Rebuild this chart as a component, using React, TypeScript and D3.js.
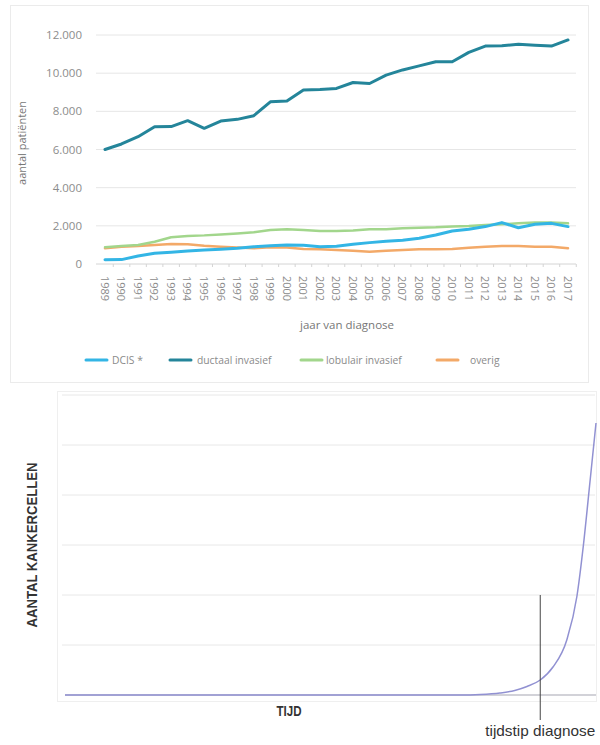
import React from "react";
import * as d3 from "d3";

const years = d3.range(1989, 2018).map(String);
const ductaal = [6000, 6290, 6670, 7195, 7200, 7510, 7110, 7490, 7580, 7770, 8500, 8540, 9120, 9150, 9200, 9510, 9460, 9900, 10170, 10380, 10600, 10600, 11090, 11420, 11440, 11510, 11460, 11420, 11740];
const dcis = [220, 230, 420, 560, 620, 680, 730, 770, 820, 900, 960, 1000, 980, 900, 930, 1030, 1120, 1190, 1240, 1345, 1520, 1730, 1820, 1960, 2170, 1900, 2080, 2130, 1960];
const lobulair = [880, 940, 1000, 1170, 1400, 1470, 1500, 1550, 1600, 1660, 1780, 1820, 1780, 1730, 1730, 1750, 1820, 1820, 1870, 1900, 1920, 1960, 1990, 2040, 2080, 2130, 2170, 2180, 2130];
const overig = [820, 910, 946, 1000, 1050, 1030, 960, 910, 860, 820, 880, 860, 790, 770, 735, 700, 645, 700, 735, 770, 770, 790, 855, 910, 945, 945, 910, 910, 820];
const yTicks = [0, 2000, 4000, 6000, 8000, 10000, 12000];

const seriesNames = ["DCIS *", "ductaal invasief", "lobulair invasief", "overig"];
const seriesColors = ["#33b5e5", "#24859a", "#a2d68c", "#f3a968"];

// second chart: growth curve (time 0..100, grid units 0..6)
const tijd = [0, 25, 50, 74.4, 78.2, 81.9, 84.7, 87.0, 89.5, 91.9, 94.5, 96.4, 97.6, 98.9, 100];
const cellen = [0, 0, 0, 0, 0.01, 0.04, 0.09, 0.17, 0.3, 0.56, 1.1, 1.97, 2.97, 4.3, 5.44];
const gridUnits = [0, 1, 2, 3, 4, 5, 6];
const diagnoseTijd = 89.5;

export default function App() {
  const x = d3.scalePoint<string>().domain(years).range([105, 568]);
  const y = d3.scaleLinear().domain([0, 12000]).range([264, 35]);
  const series = [dcis, ductaal, lobulair, overig];
  const line = d3
    .line<number>()
    .x((_, i) => x(years[i]) as number)
    .y((d) => y(d));

  const x2 = d3.scaleLinear().domain([0, 100]).range([65, 596]);
  const y2 = d3.scaleLinear().domain([0, 6]).range([695, 395]);
  const curve = d3
    .line<number>()
    .x((_, i) => x2(tijd[i]))
    .y((d) => y2(d))
    .curve(d3.curveMonotoneX);

  const font = "'Open Sans', 'DejaVu Sans', sans-serif";
  const font2 = "'Liberation Sans', Arial, sans-serif";
  const legendX = [86, 170, 301, 437];
  const legendTextX = [112, 197, 326, 470];
  const drawOrder = [3, 2, 0, 1];

  return (
    <svg width={600} height={745} style={{ position: "absolute", left: 0, top: 0, background: "#fff" }} fontFamily={font}>
      {/* top chart panel */}
      <rect x={10.5} y={5.5} width={578} height={377} fill="#fff" stroke="#ebebeb" />
      {yTicks.map((t) => (
        <g key={t}>
          {t > 0 && <line x1={96} x2={576} y1={y(t)} y2={y(t)} stroke="#e6e6e6" strokeWidth={1} />}
          <text x={82} y={y(t)} dy="0.35em" textAnchor="end" fontSize={11.5} fill="#8c8c8c">
            {d3.format(",")(t).replace(/,/g, ".")}
          </text>
        </g>
      ))}
      <line x1={96} x2={576} y1={y(0)} y2={y(0)} stroke="#d4d4d4" strokeWidth={1} />
      {years.map((yr) => (
        <g key={yr}>
          <line x1={(x(yr) as number) + 8.27} x2={(x(yr) as number) + 8.27} y1={y(0)} y2={y(0) + 3} stroke="#d4d4d4" />
          <text
            transform={`translate(${(x(yr) as number) - 4.2},${y(0) + 12}) rotate(90)`}
            fontSize={11}
            fill="#8c8c8c"
          >
            {yr}
          </text>
        </g>
      ))}
      {drawOrder.map((i) => (
        <path
          key={i}
          d={line(series[i]) as string}
          fill="none"
          stroke={seriesColors[i]}
          strokeWidth={i === 1 ? 3 : i === 0 ? 3 : 2.5}
          strokeLinejoin="round"
          strokeLinecap="round"
        />
      ))}
      <text transform={`translate(22,${143}) rotate(-90)`} dy="0.35em" textAnchor="middle" fontSize={11} fill="#777">
        aantal patiënten
      </text>
      <text x={347} y={329} textAnchor="middle" fontSize={11.5} fill="#777">
        jaar van diagnose
      </text>
      {seriesNames.map((n, i) => (
        <g key={n}>
          <line x1={legendX[i]} x2={legendX[i] + 21} y1={360} y2={360} stroke={seriesColors[i]} strokeWidth={3} strokeLinecap="round" />
          <text x={legendTextX[i]} y={360} dy="0.35em" fontSize={10.3} fill="#8a8a8a">
            {n}
          </text>
        </g>
      ))}

      {/* bottom chart */}
      <rect x={57.5} y={391.5} width={539} height={310} fill="#fff" stroke="#efefef" />
      {gridUnits.map((g) =>
        g > 0 ? <line key={g} x1={62} x2={595} y1={y2(g)} y2={y2(g)} stroke="#e8e8e8" strokeWidth={1} /> : null
      )}
      <line x1={x2(0)} x2={596} y1={y2(0)} y2={y2(0)} stroke="#d2d2d8" strokeWidth={2} />
      <path d={curve(cellen) as string} fill="none" stroke="#9191d2" strokeWidth={1.5} />
      <line x1={x2(diagnoseTijd)} x2={x2(diagnoseTijd)} y1={y2(2)} y2={720} stroke="#444" strokeWidth={1} />
      <text x={289} y={711} dy="0.35em" textAnchor="middle" fontSize={14} fontWeight="bold" fill="#333" fontFamily={font2} textLength={25} lengthAdjust="spacingAndGlyphs">
        TIJD
      </text>
      <text x={x2(diagnoseTijd)} y={731} dy="0.35em" textAnchor="middle" fontSize={15} fill="#333" fontFamily={font2} textLength={110} lengthAdjust="spacingAndGlyphs">
        tijdstip diagnose
      </text>
      <text transform="translate(32,545) rotate(-90)" dy="0.35em" textAnchor="middle" fontSize={14.5} fontWeight="bold" fill="#333" fontFamily={font2} textLength={165} lengthAdjust="spacingAndGlyphs">
        AANTAL KANKERCELLEN
      </text>
    </svg>
  );
}
